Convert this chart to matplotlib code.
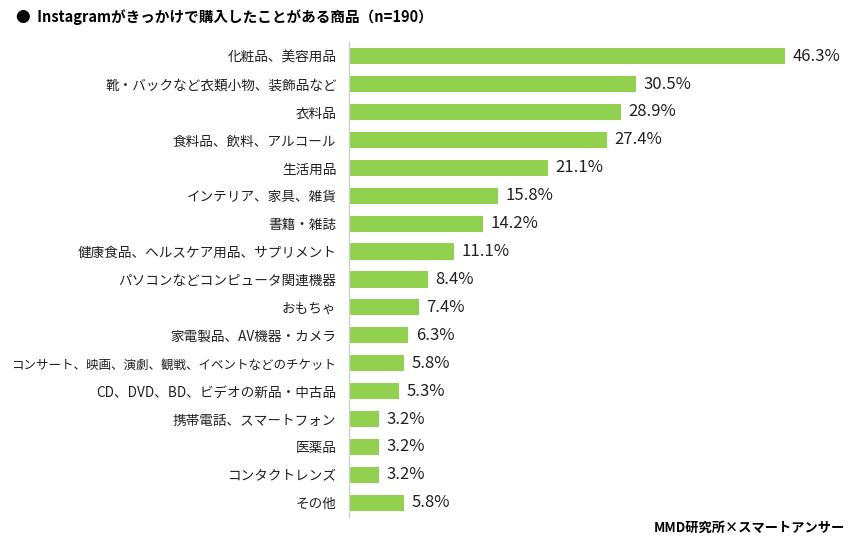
import matplotlib.pyplot as plt

plt.rcParams['font.family'] = ['Noto Sans CJK JP', 'DejaVu Sans']

# 商品カテゴリと割合（%）
kategorien = [
    "化粧品、美容用品",
    "靴・バックなど衣類小物、装飾品など",
    "衣料品",
    "食料品、飲料、アルコール",
    "生活用品",
    "インテリア、家具、雑貨",
    "書籍・雑誌",
    "健康食品、ヘルスケア用品、サプリメント",
    "パソコンなどコンピュータ関連機器",
    "おもちゃ",
    "家電製品、AV機器・カメラ",
    "コンサート、映画、演劇、観戦、イベントなどのチケット",
    "CD、DVD、BD、ビデオの新品・中古品",
    "携帯電話、スマートフォン",
    "医薬品",
    "コンタクトレンズ",
    "その他",
]
werte = [46.3, 30.5, 28.9, 27.4, 21.1, 15.8, 14.2, 11.1, 8.4, 7.4, 6.3, 5.8, 5.3, 3.2, 3.2, 3.2, 5.8]

titel = "●  Instagramがきっかけで購入したことがある商品（n=190）"
quelle = "MMD研究所×スマートアンサー"

fig = plt.figure(figsize=(8.58, 5.48), dpi=100)
ax = fig.add_axes([349 / 858, 0.057, (820 - 349) / 858, 0.866])

y = list(range(len(kategorien)))
ax.barh(y, werte, height=0.58, color='#92D050')
ax.set_ylim(len(kategorien) - 0.5, -0.5)
ax.set_xlim(0, 50)

for yi, w in zip(y, werte):
    ax.text(w + 0.8, yi, f"{w}%", va='center', ha='left', fontsize=12, color='#222222')

ax.set_yticks(y)
ax.set_yticklabels(kategorien, fontsize=9.8, color='#222222')
ax.tick_params(axis='y', length=0, pad=9)
# der lange Text passt sonst nicht links ins Bild
for lbl in ax.get_yticklabels():
    if len(lbl.get_text()) > 22:
        lbl.set_fontsize(9.0)
ax.set_xticks([])
for s in ['top', 'right', 'bottom']:
    ax.spines[s].set_visible(False)
ax.spines['left'].set_color('#d0d0d0')
ax.spines['left'].set_linewidth(1.0)

fig.text(16 / 858, 1 - 17 / 548, titel, fontsize=10.5, fontweight='bold', va='center', ha='left')
fig.text(845 / 858, 1 - 528 / 548, quelle, fontsize=9.5, fontweight='bold', va='center', ha='right')

fig.savefig('out.png', dpi=100)
